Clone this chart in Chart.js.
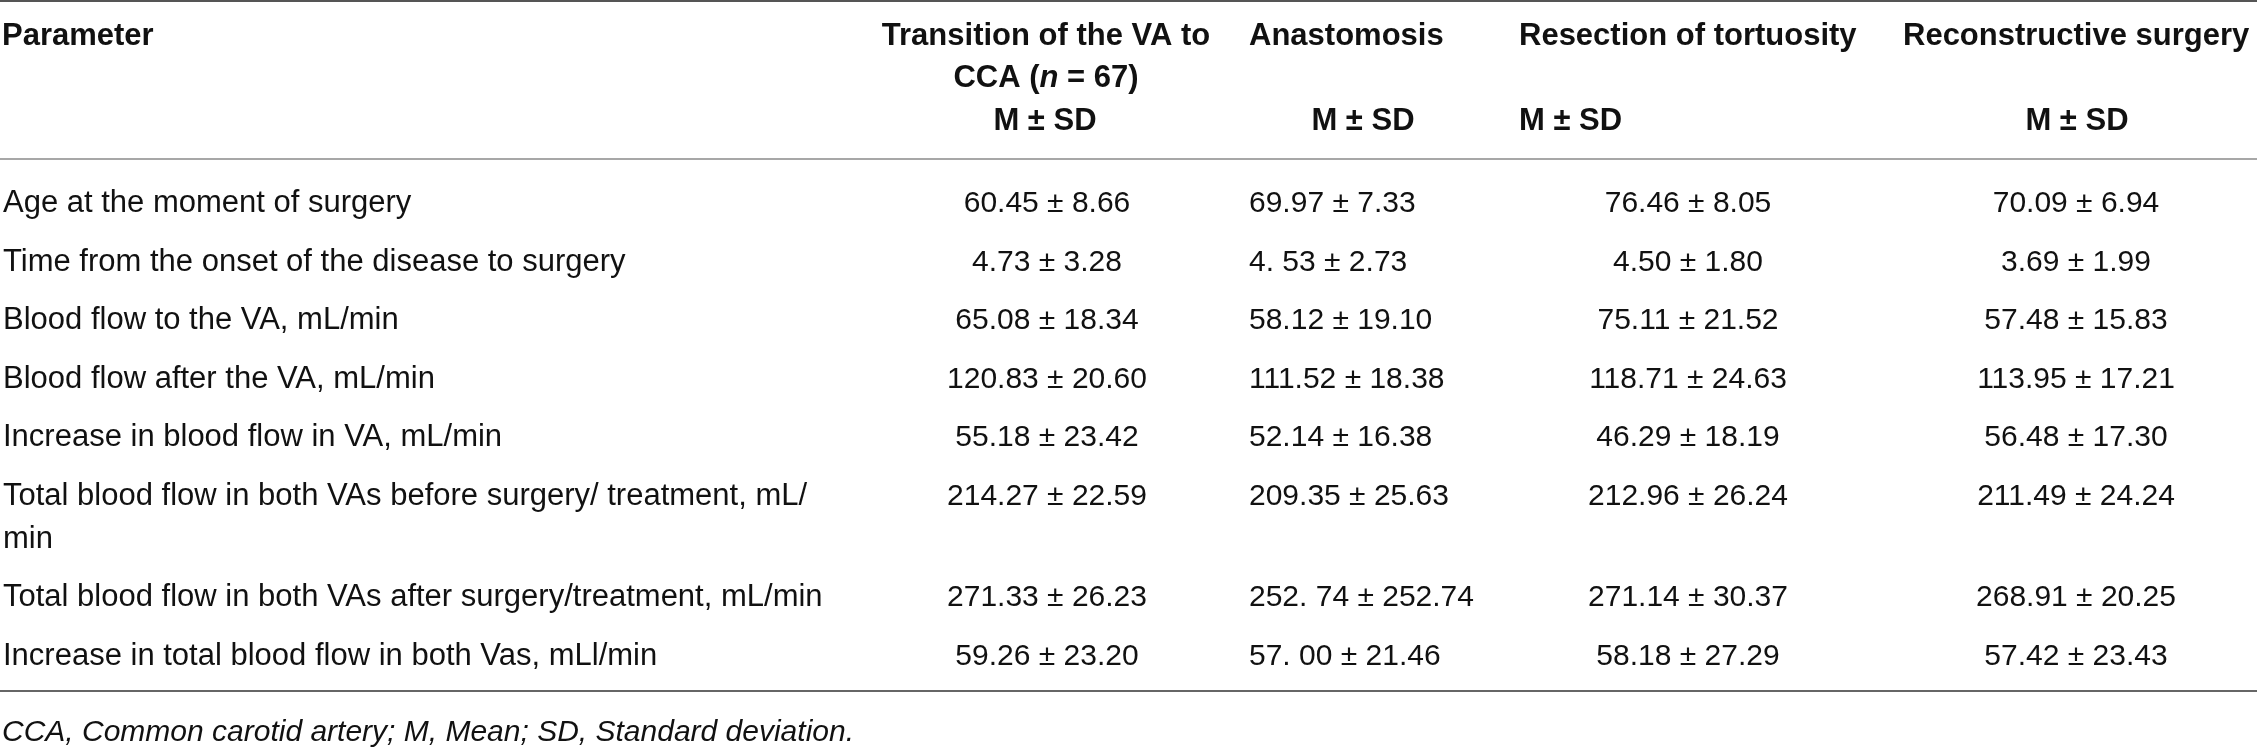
<!DOCTYPE html>
<html>
<head>
<meta charset="utf-8">
<script src="https://cdn.jsdelivr.net/npm/chart.js@4.4.1/dist/chart.umd.min.js"></script>
<style>
html, body { margin: 0; padding: 0; background: #fff; }
#wrap { width: 2257px; height: 748px; position: relative; }
</style>
</head>
<body>
<div id="wrap"><canvas id="table"></canvas></div>
<script>
// ---- table content ----
const headerTitles = [
    ['Parameter'],
    ['Transition of the VA to', 'CCA (_n_ = 67)'],   // _x_ = italic run
    ['Anastomosis'],
    ['Resection of tortuosity'],
    ['Reconstructive surgery']
];
const headerSub = ['', 'M ± SD', 'M ± SD', 'M ± SD', 'M ± SD'];

const parameters = [
    ['Age at the moment of surgery'],
    ['Time from the onset of the disease to surgery'],
    ['Blood flow to the VA, mL/min'],
    ['Blood flow after the VA, mL/min'],
    ['Increase in blood flow in VA, mL/min'],
    ['Total blood flow in both VAs before surgery/ treatment, mL/', 'min'],
    ['Total blood flow in both VAs after surgery/treatment, mL/min'],
    ['Increase in total blood flow in both Vas, mLl/min']
];

const transitionMean = ['60.45', '4.73', '65.08', '120.83', '55.18', '214.27', '271.33', '59.26'];
const transitionSD = ['8.66', '3.28', '18.34', '20.60', '23.42', '22.59', '26.23', '23.20'];
const anastomosisMean = ['69.97', '4. 53', '58.12', '111.52', '52.14', '209.35', '252. 74', '57. 00'];
const anastomosisSD = ['7.33', '2.73', '19.10', '18.38', '16.38', '25.63', '252.74', '21.46'];
const resectionMean = ['76.46', '4.50', '75.11', '118.71', '46.29', '212.96', '271.14', '58.18'];
const resectionSD = ['8.05', '1.80', '21.52', '24.63', '18.19', '26.24', '30.37', '27.29'];
const reconstructiveMean = ['70.09', '3.69', '57.48', '113.95', '56.48', '211.49', '268.91', '57.42'];
const reconstructiveSD = ['6.94', '1.99', '15.83', '17.21', '17.30', '24.24', '20.25', '23.43'];

const footnote = 'CCA, Common carotid artery; M, Mean; SD, Standard deviation.';

// ---- layout (pixel units of the hidden scales) ----
const W = 2257, H = 748;
const FONT = '"Liberation Sans", Arial, Helvetica, sans-serif';
const headerAnchor = [{x: 2, align: 'left'}, {x: 1046, align: 'center'}, {x: 1249, align: 'left'},
                      {x: 1519, align: 'left'}, {x: 1903, align: 'left'}];
const subAnchor = [null, {x: 1045, align: 'center'}, {x: 1363, align: 'center'},
                   {x: 1519, align: 'left'}, {x: 2077, align: 'center'}];
const cellAnchor = [{x: 3, align: 'left'}, {x: 1047, align: 'center'}, {x: 1249, align: 'left'},
                    {x: 1688, align: 'center'}, {x: 2076, align: 'center'}];
const headerLine = [45, 87], subLine = 130;
const firstRow = 212, rowPitch = 58.5, wrapGap = 43;
const rules = [{y: 1, w: 2, c: '#555'}, {y: 159, w: 1.5, c: '#8a8a8a'}, {y: 691, w: 2, c: '#666'}];
const footLine = 741;

// baseline of each data row, taking the wrapped label into account
function rowBaseline(r) {
    let extra = 0;
    for (let i = 0; i < r; i++) extra += parameters[i].length - 1;
    return firstRow + r * rowPitch + extra * wrapGap;
}

const columns = [
    {mean: transitionMean, sd: transitionSD},
    {mean: anastomosisMean, sd: anastomosisSD},
    {mean: resectionMean, sd: resectionSD},
    {mean: reconstructiveMean, sd: reconstructiveSD}
];

const datasets = columns.map((col, c) => ({
    label: headerTitles[c + 1].join(' '),
    data: col.mean.map((m, r) => ({x: cellAnchor[c + 1].x, y: rowBaseline(r), text: m + ' ± ' + col.sd[r]})),
    pointRadius: 0,
    align: cellAnchor[c + 1].align
}));

function drawRuns(ctx, str, x, y, align, weight, size) {
    // split on _..._ for italic pieces
    const runs = str.split('_').map((t, i) => ({text: t, italic: i % 2 === 1}));
    const fontFor = run => (run.italic ? 'italic ' : '') + weight + ' ' + size + 'px ' + FONT;
    let total = 0;
    runs.forEach(run => { ctx.font = fontFor(run); total += ctx.measureText(run.text).width; });
    let start = align === 'center' ? x - total / 2 : (align === 'right' ? x - total : x);
    ctx.textAlign = 'left';
    runs.forEach(run => {
        ctx.font = fontFor(run);
        ctx.fillText(run.text, start, y);
        start += ctx.measureText(run.text).width;
    });
}

const tablePlugin = {
    id: 'tableText',
    afterDatasetsDraw(chart) {
        const ctx = chart.ctx;
        const xs = chart.scales.x, ys = chart.scales.y;
        ctx.save();
        ctx.textBaseline = 'alphabetic';
        ctx.fillStyle = '#111';

        // horizontal rules
        rules.forEach(rule => {
            ctx.beginPath();
            ctx.strokeStyle = rule.c;
            ctx.lineWidth = rule.w;
            ctx.moveTo(xs.getPixelForValue(0), ys.getPixelForValue(rule.y));
            ctx.lineTo(xs.getPixelForValue(W), ys.getPixelForValue(rule.y));
            ctx.stroke();
        });

        // header
        headerTitles.forEach((lines, c) => {
            lines.forEach((line, i) => {
                drawRuns(ctx, line, xs.getPixelForValue(headerAnchor[c].x), ys.getPixelForValue(headerLine[i]),
                         headerAnchor[c].align, 'bold', 31);
            });
            if (subAnchor[c]) {
                drawRuns(ctx, headerSub[c], xs.getPixelForValue(subAnchor[c].x), ys.getPixelForValue(subLine),
                         subAnchor[c].align, 'bold', 31);
            }
        });

        // row labels
        parameters.forEach((lines, r) => {
            lines.forEach((line, i) => {
                drawRuns(ctx, line, xs.getPixelForValue(cellAnchor[0].x),
                         ys.getPixelForValue(rowBaseline(r) + i * wrapGap), 'left', 'normal', 31);
            });
        });

        // value cells, placed by the scatter elements
        chart.data.datasets.forEach((ds, d) => {
            const meta = chart.getDatasetMeta(d);
            meta.data.forEach((el, i) => {
                drawRuns(ctx, ds.data[i].text, el.x, el.y, ds.align, 'normal', 30);
            });
        });

        // footnote
        drawRuns(ctx, '_' + footnote + '_', xs.getPixelForValue(2), ys.getPixelForValue(footLine), 'left', 'normal', 30);
        ctx.restore();
    }
};

new Chart(document.getElementById('table').getContext('2d'), {
    type: 'scatter',
    data: {datasets: datasets},
    options: {
        responsive: true,
        maintainAspectRatio: false,
        animation: false,
        layout: {padding: 0},
        scales: {
            x: {type: 'linear', min: 0, max: W, display: false},
            y: {type: 'linear', min: 0, max: H, reverse: true, display: false}
        },
        plugins: {
            legend: {display: false},
            tooltip: {enabled: false}
        }
    },
    plugins: [tablePlugin]
});
</script>
</body>
</html>
